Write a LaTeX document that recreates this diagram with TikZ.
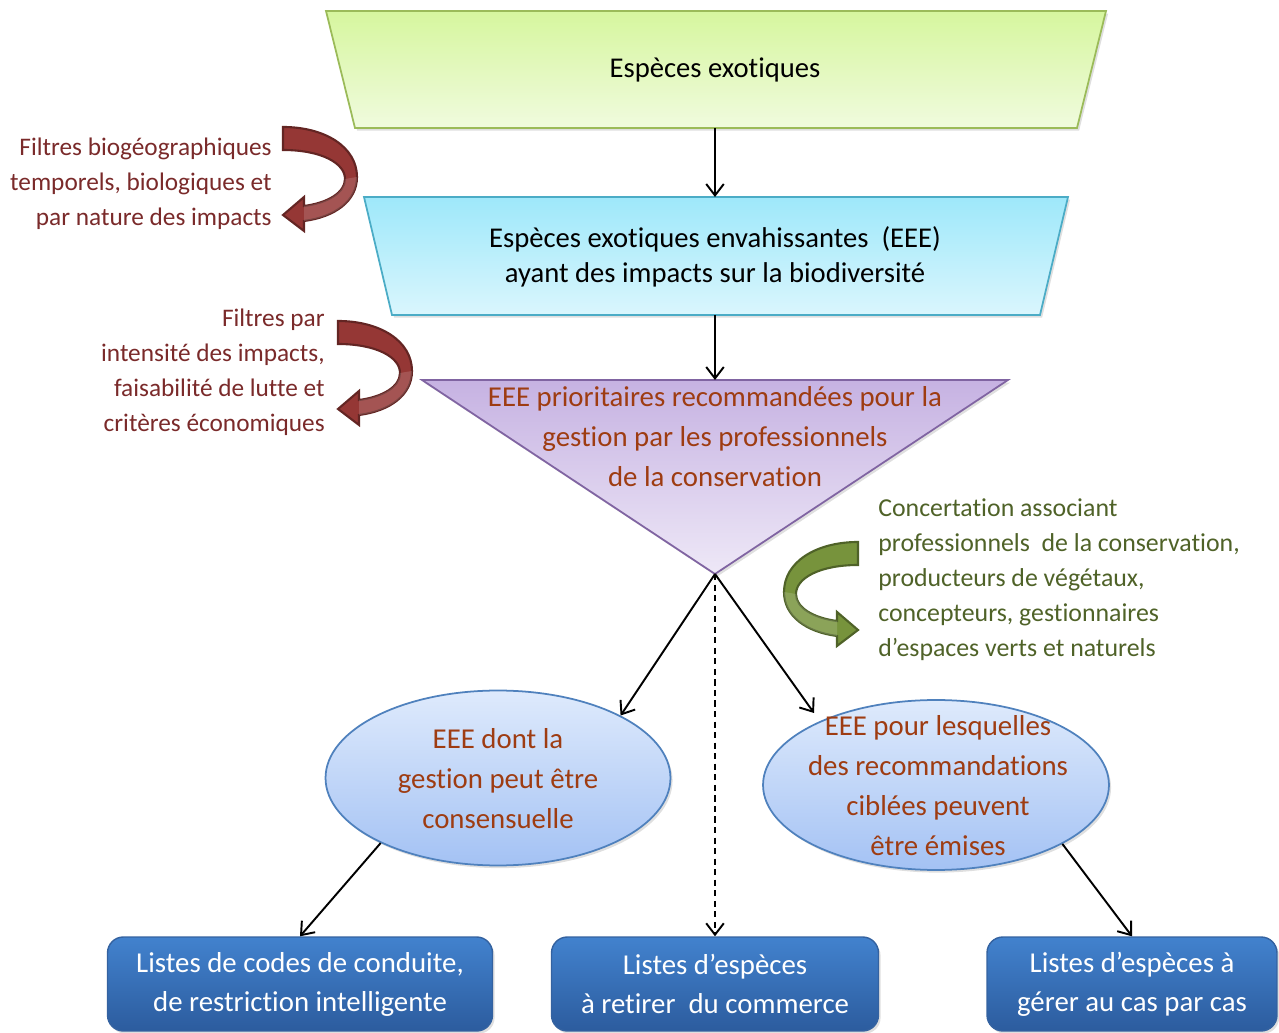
\documentclass[tikz,border=0pt]{standalone}
\usepackage{fontspec}
\setmainfont{Carlito}[Ligatures=NoCommon]
\usepackage{xcolor}
\usetikzlibrary{arrows.meta, shapes.geometric, shadows}

\definecolor{exoTop}{RGB}{214,246,158}
\definecolor{exoBot}{RGB}{240,251,222}
\definecolor{exoLine}{RGB}{155,187,89}
\definecolor{envTop}{RGB}{158,232,250}
\definecolor{envBot}{RGB}{218,246,253}
\definecolor{envLine}{RGB}{75,172,198}
\definecolor{priTop}{RGB}{198,178,226}
\definecolor{priBot}{RGB}{238,232,247}
\definecolor{priLine}{RGB}{128,100,162}
\definecolor{ellTop}{RGB}{222,234,252}
\definecolor{ellBot}{RGB}{164,194,244}
\definecolor{ellLine}{RGB}{79,129,189}
\definecolor{lstTop}{RGB}{66,130,206}
\definecolor{lstBot}{RGB}{44,92,158}
\definecolor{lstLine}{RGB}{52,98,160}
\definecolor{rustText}{RGB}{158,60,18}
\definecolor{filtText}{RGB}{122,42,42}
\definecolor{filtFill}{RGB}{149,55,53}
\definecolor{filtLine}{RGB}{99,37,35}
\definecolor{concText}{RGB}{79,98,40}
\definecolor{concFill}{RGB}{119,147,60}
\definecolor{concLine}{RGB}{79,98,40}

\tikzset{
  shadowed/.style={drop shadow={shadow xshift=1.2pt, shadow yshift=-1.5pt, opacity=0.25}},
  conn/.style={-{Straight Barb[length=6.5pt,width=10pt]}, line width=1.1pt, black},
  exotrap/.style={top color=exoTop, bottom color=exoBot, draw=exoLine, line width=1pt, shadowed},
  envtrap/.style={top color=envTop, bottom color=envBot, draw=envLine, line width=1pt, shadowed},
  pritri/.style={top color=priTop, bottom color=priBot, draw=priLine, line width=1pt, shadowed},
  ellbox/.style={ellipse, top color=ellTop, bottom color=ellBot, draw=ellLine,
    line width=1pt, inner sep=0pt, shadowed},
  lstbox/.style={rectangle, rounded corners=9pt, top color=lstTop, bottom color=lstBot,
    draw=lstLine, line width=0.8pt, text=white, align=center, minimum height=1.88cm,
    font=\fontsize{16.4}{22.2}\selectfont, shadowed},
  rusttext/.style={text=rustText, align=center, inner sep=0pt,
    font=\fontsize{16.4}{22.8}\selectfont},
  filttext/.style={text=filtText, align=right, anchor=east, inner sep=0pt,
    font=\fontsize{14.4}{19.9}\selectfont},
  conctext/.style={text=concText, align=left, anchor=west, inner sep=0pt,
    font=\fontsize{14.7}{19.9}\selectfont},
  bendarrow/.pic={
    \path[pic actions] (0,0) .. controls (42,0) and (74,20) .. (74,50)
      .. controls (74,74) and (52,90) .. (21,94)
      -- (21,104) -- (0,88) -- (21,70) -- (21,79)
      .. controls (44,76) and (62,66) .. (62,52)
      .. controls (62,36) and (38,23) .. (0,23) -- cycle;
    \fill[white, opacity=0.15] (74,50) .. controls (74,74) and (52,90) .. (21,94)
      -- (21,79) .. controls (44,76) and (62,66) .. (62,52) -- cycle;
  }
}

\begin{document}
\begin{tikzpicture}[x=0.02cm, y=-0.02cm, font=\fontsize{16.3}{19.9}\selectfont]
  \useasboundingbox (0,0) rectangle (1279,1033);

  % funnel
  \path[exotrap] (326,11) -- (1106,11) -- (1077,128) -- (355,128) -- cycle;
  \node[inner sep=0pt] (exo) at (715,70) {Espèces exotiques};
  \coordinate (exoB) at (715,128);

  \path[envtrap] (364,197) -- (1068,197) -- (1040,315) -- (392,315) -- cycle;
  \node[inner sep=0pt, align=center] (env) at (715,257)
    {Espèces exotiques envahissantes\ \ (EEE)\\ayant des impacts sur la biodiversité};
  \coordinate (envT) at (715,197);
  \coordinate (envB) at (715,315);

  \path[pritri] (422,380) -- (1008,380) -- (715,574) -- cycle;
  \node[rusttext] (pri) at (715,437)
    {EEE prioritaires recommandées pour la\\gestion par les professionnels\\de la conservation};
  \coordinate (priT) at (715,380);
  \coordinate (priB) at (715,574);

  \draw[conn] (exoB) -- (envT);
  \draw[conn] (envB) -- (priT);

  % filters
  \node[filttext] (filt1) at (272,184)
    {Filtres biogéographiques\\temporels, biologiques et\\par nature des impacts};
  \pic[fill=filtFill, draw=filtLine, line width=1.2pt] at (283,127) {bendarrow};

  \node[filttext] (filt2) at (325,372)
    {Filtres par\\intensité des impacts,\\faisabilité de lutte et\\critères économiques};
  \pic[fill=filtFill, draw=filtLine, line width=1.2pt] at (338,321) {bendarrow};

  \node[conctext] (conc) at (878,580)
    {Concertation associant\\professionnels\ \ de la conservation,\\producteurs de végétaux,\\concepteurs, gestionnaires\\d’espaces verts et naturels};
  \pic[xscale=-1, fill=concFill, draw=concLine, line width=1.2pt] at (858,542) {bendarrow};

  % outcomes
  \node[ellbox, minimum width=6.9cm, minimum height=3.5cm] (cons) at (498,778) {};
  \node[rusttext] (consT) at (498,779) {EEE dont la\\gestion peut être\\consensuelle};

  \node[ellbox, minimum width=6.92cm, minimum height=3.4cm] (reco) at (936,785) {};
  \node[rusttext] (recoT) at (938,786)
    {EEE pour lesquelles\\des recommandations\\ciblées peuvent\\être émises};
  \coordinate (recoIn) at (814,713);

  \node[lstbox, minimum width=7.7cm] (lst1) at (300,984)
    {Listes de codes de conduite,\\de restriction intelligente};
  \node[lstbox, minimum width=6.54cm] (lst2) at (715,984)
    {Listes d’espèces\\à retirer\ \ du commerce};
  \node[lstbox, minimum width=5.8cm] (lst3) at (1132,984)
    {Listes d’espèces à\\gérer au cas par cas};

  \draw[conn] (priB) -- (cons.27);
  \draw[conn] (priB) -- (recoIn);
  \draw[conn, dash pattern=on 3.5pt off 2.5pt] (priB) -- (lst2.north);
  \draw[conn] (cons.209) -- (lst1.north);
  \draw[conn] (reco.335) -- (lst3.north);
\end{tikzpicture}
\end{document}
